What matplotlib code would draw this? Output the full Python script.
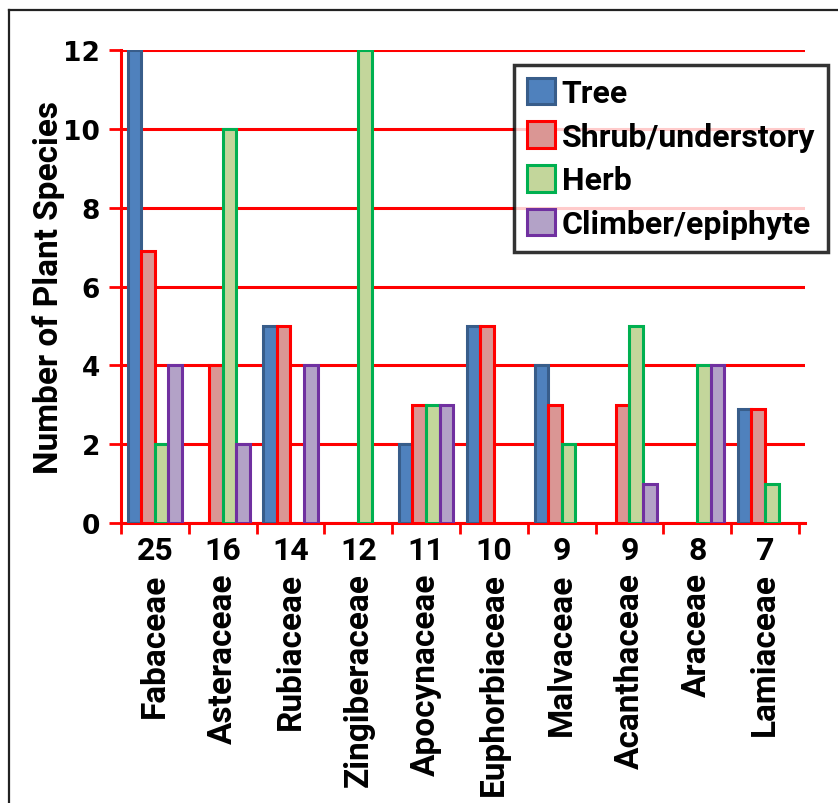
import numpy as np
import matplotlib.pyplot as plt
from matplotlib.lines import Line2D

families = ["Fabaceae", "Asteraceae", "Rubiaceae", "Zingiberaceae", "Apocynaceae",
            "Euphorbiaceae", "Malvaceae", "Acanthaceae", "Araceae", "Lamiaceae"]
totals = ["25", "16", "14", "12", "11", "10", "9", "9", "8", "7"]

tree = [12, 0, 5, 0, 2, 5, 4, 0, 0, 2.9]
shrub = [6.9, 4, 5, 0, 3, 5, 3, 3, 0, 2.9]
herb = [2, 10, 0, 12, 3, 0, 2, 5, 4, 1]
climber = [4, 2, 4, 0, 3, 0, 0, 1, 4, 0]

series = [
    ("Tree", tree, "#4F81BD", "#385D8A"),
    ("Shrub/understory", shrub, "#DA9694", "#FF0000"),
    ("Herb", herb, "#C3D69B", "#00B050"),
    ("Climber/epiphyte", climber, "#B3A2C7", "#7030A0"),
]

W, H = 838, 804
fig = plt.figure(figsize=(W / 100, H / 100), dpi=100)
ax = fig.add_axes([121 / W, 1 - 524 / H, (805 - 121) / W, (524 - 51) / H])

x = np.arange(len(families))
offsets = [-0.3, -0.1, 0.1, 0.3]
for (name, vals, fc, ec), off in zip(series, offsets):
    vals = np.array(vals, dtype=float)
    keep = vals > 0  # empty categories draw no bar at all
    ax.bar(x[keep] + off, vals[keep], width=0.2, facecolor=fc, edgecolor=ec,
           linewidth=2.2, label=name, zorder=3)

ax.set_xlim(-0.5, len(families) - 0.5 + 0.09)
ax.set_ylim(0, 12)
ax.set_yticks(range(0, 13, 2))
ax.yaxis.grid(True, color="#FF0000", linewidth=2.2)
ax.set_axisbelow(True)
for s in ["top", "right"]:
    ax.spines[s].set_visible(False)
for s in ["left", "bottom"]:
    ax.spines[s].set_color("#FF0000")
    ax.spines[s].set_linewidth(2.2)
ax.spines["left"].set_bounds(0, 12)

ax.tick_params(axis="y", colors="#FF0000", length=9, width=2, labelcolor="black", pad=6)
for lab in ax.get_yticklabels():
    lab.set_fontfamily("DejaVu Sans")
    lab.set_fontweight("bold")
    lab.set_fontsize(19)

# category boundary ticks on x axis
ax.set_xticks(np.arange(-0.5, len(families), 1.0))
ax.set_xticklabels([])
ax.tick_params(axis="x", colors="#FF0000", length=8, width=2, direction="out")

for i, (tot, fam) in enumerate(zip(totals, families)):
    ax.text(i, -0.3, tot, ha="center", va="top", fontsize=23, fontweight="bold",
            family="Roboto", clip_on=False)
    ax.text(i, -1.25, fam, ha="center", va="top", rotation=90, fontsize=24,
            fontweight="bold", family="Roboto", clip_on=False)

ax.set_ylabel("Number of Plant Species", fontsize=24, fontweight="bold",
              family="Roboto", labelpad=-1)

leg = ax.legend(loc="upper right", bbox_to_anchor=(828 / W, 1 - 66 / H),
                bbox_transform=fig.transFigure, frameon=True, fancybox=False,
                prop={"family": "Roboto", "weight": "bold", "size": 23},
                handlelength=0.9, handleheight=0.9, handletextpad=0.2,
                labelspacing=0.42, borderpad=0.4, borderaxespad=0)
leg.get_frame().set_edgecolor("black")
leg.get_frame().set_linewidth(2.5)
leg.set_zorder(5)

# outer frame (top and left visible)
fig.add_artist(Line2D([9 / W, 1], [1 - 11 / H, 1 - 11 / H], color="#222222", linewidth=1.6))
fig.add_artist(Line2D([9 / W, 9 / W], [0, 1 - 11 / H], color="#222222", linewidth=1.6))

fig.savefig("out.png", dpi=100)
